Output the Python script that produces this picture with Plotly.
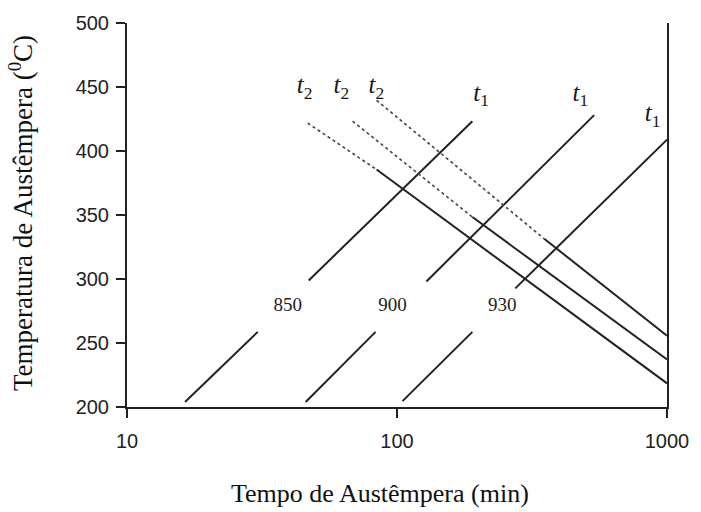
import plotly.graph_objects as go

# ---- data ----
# Rising t1 lines (austenitizing temperature 850, 900, 930 C), split around their labels
t1_850_low_x = [16.4, 30.5]
t1_850_low_y = [203.9, 258.7]
t1_850_up_x = [47.1, 190.2]
t1_850_up_y = [298.9, 423.3]

t1_900_low_x = [45.9, 83.3]
t1_900_low_y = [203.9, 258.7]
t1_900_up_x = [128.5, 537.3]
t1_900_up_y = [298.1, 428.0]

t1_930_low_x = [104.8, 190.2]
t1_930_low_y = [204.6, 258.7]
t1_930_up_x = [274.2, 1000.0]
t1_930_up_y = [292.7, 408.9]

# Falling t2 lines: dotted upper part, solid lower part
t2_a_dot_x = [46.7, 84.0]
t2_a_dot_y = [421.8, 385.5]
t2_a_sol_x = [84.0, 1000.0]
t2_a_sol_y = [385.5, 218.5]

t2_b_dot_x = [68.5, 190.2]
t2_b_dot_y = [423.3, 348.4]
t2_b_sol_x = [190.2, 1000.0]
t2_b_sol_y = [348.4, 237.1]

t2_c_dot_x = [84.0, 351.0]
t2_c_dot_y = [439.6, 331.4]
t2_c_sol_x = [351.0, 1000.0]
t2_c_sol_y = [331.4, 255.6]

# Labels
temp_labels = ["850", "900", "930"]
temp_label_x = [39.4, 96.2, 245.5]
temp_label_y = [278.8, 278.8, 278.8]

t1_label_x = [205.0, 478.0, 885.0]
t1_label_y = [444.0, 444.0, 428.0]

t2_label_x = [45.5, 62.2, 83.8]
t2_label_y = [450.0, 450.0, 450.0]

x_ticks = [10, 100, 1000]
x_tick_text = ["10", "100", "1000"]
y_ticks = [200, 250, 300, 350, 400, 450, 500]

x_title = "Tempo de Austêmpera (min)"
y_title = "Temperatura de Austêmpera (<sup>0</sup>C)"

# ---- figure ----
SOLID = dict(color="#222222", width=2.0)
DOT = dict(color="#4a4a4a", width=1.7, dash="dot")

fig = go.Figure()

for xs, ys in [(t1_850_low_x, t1_850_low_y), (t1_850_up_x, t1_850_up_y),
               (t1_900_low_x, t1_900_low_y), (t1_900_up_x, t1_900_up_y),
               (t1_930_low_x, t1_930_low_y), (t1_930_up_x, t1_930_up_y),
               (t2_a_sol_x, t2_a_sol_y), (t2_b_sol_x, t2_b_sol_y),
               (t2_c_sol_x, t2_c_sol_y)]:
    fig.add_trace(go.Scatter(x=xs, y=ys, mode="lines", line=SOLID,
                             showlegend=False, hoverinfo="skip"))

for xs, ys in [(t2_a_dot_x, t2_a_dot_y), (t2_b_dot_x, t2_b_dot_y),
               (t2_c_dot_x, t2_c_dot_y)]:
    fig.add_trace(go.Scatter(x=xs, y=ys, mode="lines", line=DOT,
                             showlegend=False, hoverinfo="skip"))

fig.add_trace(go.Scatter(x=temp_label_x, y=temp_label_y, mode="text",
                         text=temp_labels,
                         textfont=dict(family="Liberation Serif", size=19, color="#222"),
                         showlegend=False, hoverinfo="skip"))
fig.add_trace(go.Scatter(x=t1_label_x, y=t1_label_y, mode="text",
                         text=["<i>t</i><sub>1</sub>"] * len(t1_label_x),
                         textfont=dict(family="Liberation Serif", size=25, color="#1a1a1a"),
                         showlegend=False, hoverinfo="skip"))
fig.add_trace(go.Scatter(x=t2_label_x, y=t2_label_y, mode="text",
                         text=["<i>t</i><sub>2</sub>"] * len(t2_label_x),
                         textfont=dict(family="Liberation Serif", size=25, color="#1a1a1a"),
                         showlegend=False, hoverinfo="skip"))

fig.update_layout(
    width=701, height=512,
    margin=dict(l=127, r=33, t=19, b=105),
    paper_bgcolor="white", plot_bgcolor="white",
    xaxis=dict(type="log", range=[1, 3], tickvals=x_ticks, ticktext=x_tick_text,
               showgrid=False, zeroline=False, showline=True, linecolor="#222",
               linewidth=2, ticks="outside", ticklen=9, tickwidth=2, tickcolor="#222",
               tickfont=dict(family="Liberation Sans", size=20, color="#222"),
               ticklabelstandoff=6),
    yaxis=dict(range=[200, 500], tickvals=y_ticks,
               showgrid=False, zeroline=False, showline=True, linecolor="#222",
               linewidth=2, mirror=True, ticks="outside", ticklen=9, tickwidth=2,
               tickcolor="#222",
               tickfont=dict(family="Liberation Sans", size=20, color="#222"),
               ticklabelstandoff=3),
    annotations=[
        dict(text=x_title, xref="paper", yref="paper", x=0.4677, y=0,
             xanchor="center", yanchor="middle", yshift=-86, showarrow=False,
             font=dict(family="Liberation Serif", size=26, color="#111")),
        dict(text=y_title, xref="paper", yref="paper", x=0, y=0.505,
             xanchor="center", yanchor="middle", xshift=-106, textangle=-90,
             showarrow=False,
             font=dict(family="Liberation Serif", size=27, color="#111")),
    ],
)

fig.write_html("out.html", config={"displayModeBar": False},
               post_script="document.body.style.margin='0';document.body.style.overflow='hidden';")
